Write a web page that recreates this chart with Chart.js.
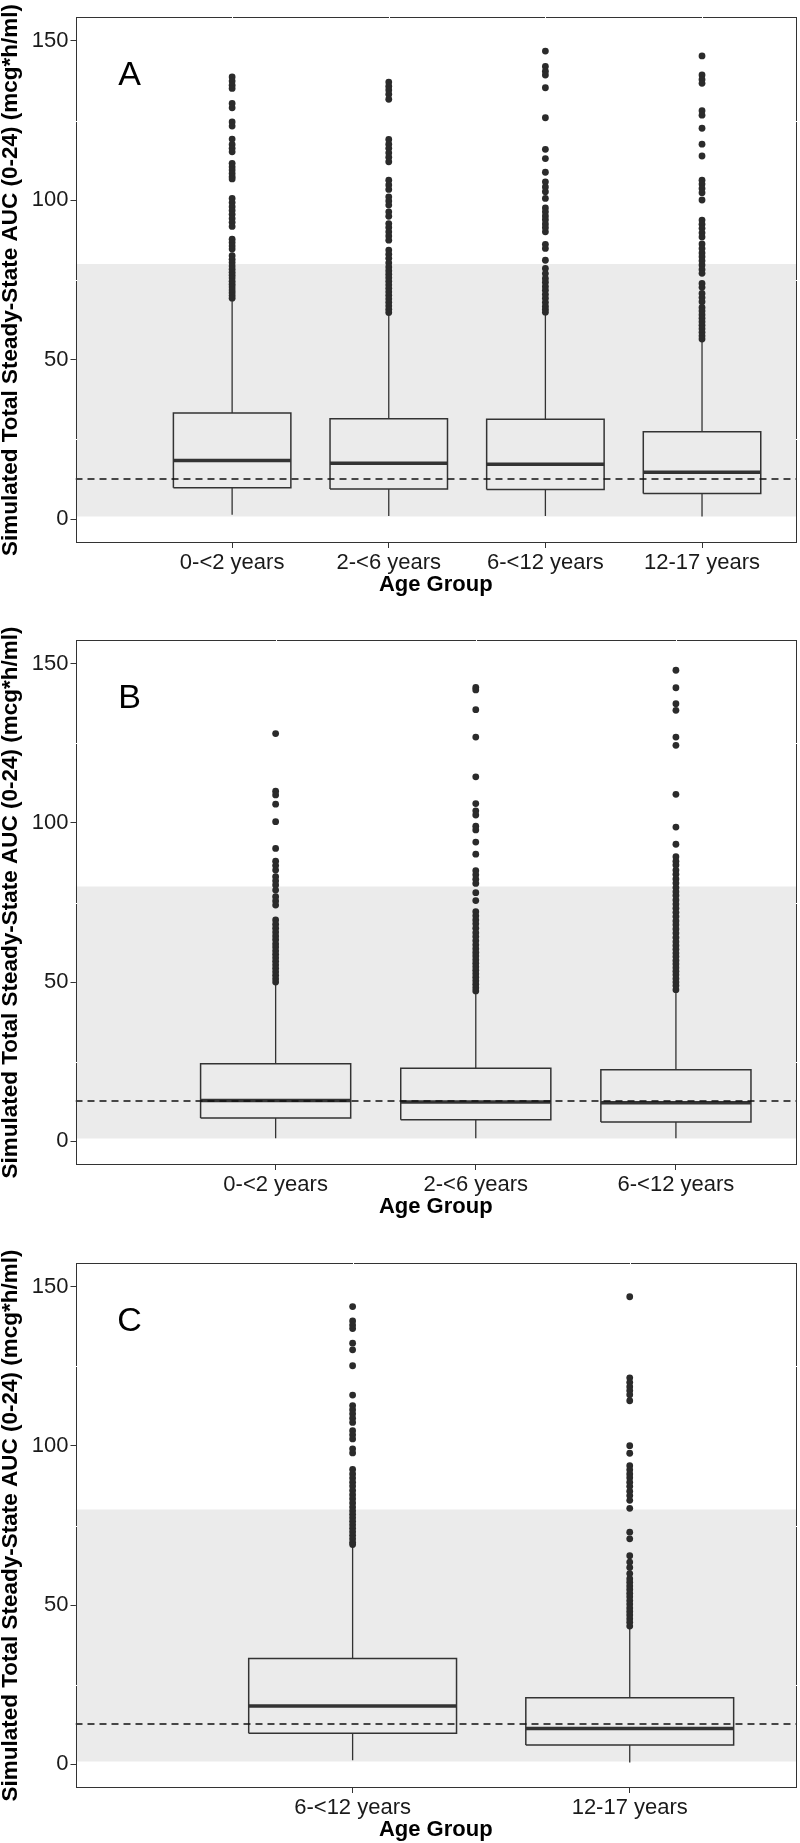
<!DOCTYPE html>
<html>
<head>
<meta charset="utf-8">
<script src="https://cdn.jsdelivr.net/npm/chart.js@4.4.1/dist/chart.umd.min.js"></script>
<style>
  html, body { margin: 0; padding: 0; background: #fff; }
  body { width: 800px; height: 1843px; position: relative; overflow: hidden; }
  .panel { position: absolute; left: 0; width: 800px; }
</style>
</head>
<body>
<div class="panel" id="wrap-a" style="top:0px;height:605px"><canvas id="chart-a"></canvas></div>
<div class="panel" id="wrap-b" style="top:623px;height:604px"><canvas id="chart-b"></canvas></div>
<div class="panel" id="wrap-c" style="top:1246px;height:604px"><canvas id="chart-c"></canvas></div>
<script>
// shared reference values (mcg*h/ml)
const BAND_LOW = 0.8;
const BAND_HIGH = 80;
const TARGET_AUC = 12.6;
const Y_TICKS = [0, 50, 100, 150];
const Y_MINOR = [25, 75, 125];
const Y_MIN = -7.5;
const Y_MAX = 157.5;

// panel A
const A_GROUPS = ['0-<2 years', '2-<6 years', '6-<12 years', '12-17 years'];
const A_Q1 = [9.8, 9.4, 9.3, 8.0];
const A_MEDIAN = [18.4, 17.5, 17.2, 14.7];
const A_Q3 = [33.3, 31.5, 31.3, 27.4];
const A_LOW = [1.4, 1.0, 1.0, 0.8];
const A_HIGH = [68.6, 63.9, 64.0, 55.7];
const A_OUTLIERS = [
  [138.7, 137.4, 136.1, 135.1, 130.4, 129.0, 124.6, 123.3, 119.2, 117.5, 116.3, 115.2, 111.6, 110.5, 109.5, 108.4, 107.4, 106.7, 100.6, 99.3, 98.0, 96.8, 95.6, 94.3, 93.1, 91.8, 87.8, 86.8, 85.7, 84.7, 82.6, 81.5, 80.5, 79.4, 78.4, 77.4, 76.5, 75.6, 74.6, 73.7, 72.8, 71.9, 71.0, 70.1, 69.3],
  [137.1, 135.8, 134.6, 133.3, 131.7, 119.1, 117.6, 116.3, 114.9, 113.5, 112.1, 106.3, 104.8, 103.4, 101.1, 99.8, 98.5, 96.4, 95.0, 92.7, 91.5, 90.1, 88.8, 87.5, 84.4, 83.1, 81.8, 80.4, 79.1, 77.9, 76.8, 75.7, 74.6, 73.5, 72.4, 71.3, 70.2, 69.1, 68.0, 66.9, 65.8, 64.8],
  [146.8, 142.0, 140.5, 139.3, 135.3, 125.9, 116.0, 113.1, 108.8, 105.8, 104.2, 102.7, 100.6, 97.6, 96.4, 95.1, 93.9, 92.6, 91.4, 90.1, 86.2, 84.9, 81.2, 78.6, 77.0, 75.5, 74.3, 73.0, 71.8, 70.5, 69.3, 68.0, 66.8, 65.8, 64.9],
  [145.3, 139.3, 137.9, 136.7, 128.1, 126.7, 122.6, 117.6, 113.9, 106.3, 105.1, 103.7, 102.4, 100.1, 93.8, 92.5, 91.2, 89.8, 88.5, 86.3, 84.9, 83.5, 82.3, 81.0, 79.7, 78.3, 77.1, 73.9, 72.7, 70.8, 69.5, 68.2, 66.4, 65.3, 64.1, 63.0, 61.9, 60.8, 59.7, 58.6, 57.5, 56.5]
];

// panel B
const B_GROUPS = ['0-<2 years', '2-<6 years', '6-<12 years'];
const B_Q1 = [7.3, 6.7, 6.0];
const B_MEDIAN = [12.8, 12.3, 12.1];
const B_Q3 = [24.3, 22.9, 22.4];
const B_LOW = [0.9, 0.9, 0.9];
const B_HIGH = [49.2, 46.3, 46.7];
const B_OUTLIERS = [
  [128.1, 110.0, 108.8, 105.9, 100.4, 92.0, 88.0, 86.6, 85.2, 83.1, 81.8, 80.5, 78.9, 76.8, 75.5, 74.2, 69.5, 68.2, 66.9, 65.7, 64.5, 63.3, 62.0, 61.0, 59.8, 58.7, 57.6, 56.5, 55.4, 54.3, 53.2, 52.1, 51.0, 50.0],
  [142.6, 141.8, 135.6, 127.0, 114.5, 106.1, 103.8, 102.5, 99.0, 97.8, 94.0, 90.2, 85.0, 83.7, 82.3, 81.0, 78.1, 75.6, 72.1, 70.8, 69.5, 68.3, 66.9, 65.5, 64.3, 63.0, 61.7, 60.5, 59.3, 58.2, 57.0, 55.9, 54.8, 53.7, 52.6, 51.5, 50.4, 49.3, 48.2, 47.2],
  [148.0, 142.5, 137.5, 135.4, 127.0, 124.4, 109.0, 98.7, 93.3, 89.4, 88.0, 86.8, 85.2, 83.9, 82.4, 81.1, 79.7, 78.4, 77.2, 75.8, 74.5, 73.2, 71.9, 70.6, 69.2, 68.0, 66.7, 65.4, 64.0, 62.7, 61.5, 60.3, 59.1, 58.0, 56.8, 55.7, 54.5, 53.4, 52.3, 51.1, 50.0, 48.9, 47.6]
];

// panel C
const C_GROUPS = ['6-<12 years', '12-17 years'];
const C_Q1 = [9.7, 6.0];
const C_MEDIAN = [18.3, 11.2];
const C_Q3 = [33.2, 20.9];
const C_LOW = [1.2, 0.5];
const C_HIGH = [68.2, 42.7];
const C_OUTLIERS = [
  [143.8, 139.3, 138.0, 136.9, 132.3, 130.2, 125.2, 116.0, 112.7, 111.4, 110.1, 108.7, 107.4, 104.8, 103.5, 102.2, 99.1, 97.8, 92.6, 91.2, 89.9, 88.6, 87.4, 86.0, 84.7, 83.4, 82.1, 80.8, 79.6, 78.5, 77.4, 76.3, 75.2, 74.1, 73.0, 71.9, 70.8, 69.7, 69.0],
  [146.9, 121.4, 120.0, 118.6, 117.4, 116.1, 114.2, 100.1, 97.7, 93.8, 92.5, 91.2, 90.0, 88.6, 87.3, 85.8, 84.4, 82.9, 80.4, 72.9, 70.8, 65.5, 63.5, 61.8, 59.9, 58.3, 57.2, 56.0, 54.9, 53.7, 52.6, 51.4, 50.3, 49.1, 48.0, 46.9, 45.7, 44.6, 43.4]
];

const FONT = "'Liberation Sans', Arial, sans-serif";
const INK = '#333333';
const BOX_HALF = 0.375;

// frame, white grid nicks on the frame, panel letter
const framePlugin = {
  id: 'frame',
  afterDraw(chart, args, opts) {
    const { ctx, chartArea: a, scales } = chart;
    const L = Math.round(a.left), T = Math.round(a.top);
    const W = Math.round(a.width), H = Math.round(a.height);
    ctx.save();
    ctx.strokeStyle = INK;
    ctx.lineWidth = 1;
    ctx.strokeRect(L + 0.5, T + 0.5, W - 1, H - 1);
    ctx.fillStyle = '#fff';
    opts.xs.forEach(v => {
      const px = Math.round(scales.x.getPixelForValue(v));
      ctx.fillRect(px, T, 1, 1);
    });
    Y_MINOR.forEach(v => {
      const py = Math.round(scales.y.getPixelForValue(v));
      ctx.fillRect(L, py, 1, 1);
      ctx.fillRect(L + W - 1, py, 1, 1);
    });
    ctx.fillStyle = '#000';
    ctx.font = '34px ' + FONT;
    ctx.textAlign = 'center';
    ctx.textBaseline = 'middle';
    ctx.fillText(opts.letter, a.left + 54, a.top + 59);
    ctx.restore();
  }
};

function makePanel(canvasId, letter, groups, q1, med, q3, lo, hi, outliers) {
  const n = groups.length;
  const xMin = 0, xMax = n + 0.6;
  const pos = groups.map((g, i) => i + 1);
  const datasets = [];

  // shaded reference range
  datasets.push({
    data: [{ x: xMin, y: BAND_HIGH }, { x: xMax, y: BAND_HIGH }],
    showLine: true, borderWidth: 0, borderColor: 'rgba(0,0,0,0)',
    backgroundColor: '#EBEBEB', fill: { value: BAND_LOW }, pointRadius: 0, order: 10
  });

  pos.forEach((x, i) => {
    const line = { showLine: true, pointRadius: 0, borderColor: INK, fill: false, order: 5 };
    datasets.push({ ...line, borderWidth: 1.3,
      data: [{ x: x, y: q3[i] }, { x: x, y: hi[i] }] });
    datasets.push({ ...line, borderWidth: 1.3,
      data: [{ x: x, y: lo[i] }, { x: x, y: q1[i] }] });
    datasets.push({ ...line, borderWidth: 1.5, data: [
      { x: x - BOX_HALF, y: q1[i] }, { x: x + BOX_HALF, y: q1[i] },
      { x: x + BOX_HALF, y: q3[i] }, { x: x - BOX_HALF, y: q3[i] },
      { x: x - BOX_HALF, y: q1[i] }] });
    datasets.push({ ...line, borderWidth: 3.5,
      data: [{ x: x - BOX_HALF, y: med[i] }, { x: x + BOX_HALF, y: med[i] }] });
  });

  // target line
  datasets.push({
    data: [{ x: xMin, y: TARGET_AUC }, { x: xMax, y: TARGET_AUC }],
    showLine: true, borderColor: '#111', borderWidth: 1.5, borderDash: [7, 5],
    pointRadius: 0, fill: false, order: 4
  });

  const pts = [];
  outliers.forEach((list, i) => list.forEach(v => pts.push({ x: pos[i], y: v })));
  datasets.push({
    data: pts, pointRadius: 3.4, pointBackgroundColor: '#2b2b2b',
    pointBorderWidth: 0, showLine: false, order: 1
  });

  return new Chart(document.getElementById(canvasId), {
    type: 'scatter',
    data: { datasets },
    plugins: [framePlugin],
    options: {
      responsive: true,
      maintainAspectRatio: false,
      animation: false,
      layout: { padding: { top: 17, right: 1, left: 0, bottom: 0 } },
      plugins: { legend: { display: false }, tooltip: { enabled: false }, frame: { letter, xs: pos } },
      scales: {
        x: {
          type: 'linear', min: xMin, max: xMax,
          afterBuildTicks: s => { s.ticks = pos.map(v => ({ value: v })); },
          afterFit: s => { s.height = 62; },
          grid: { drawOnChartArea: false, drawTicks: true, tickLength: 5, color: INK },
          border: { display: false },
          ticks: { color: '#1a1a1a', padding: 2, maxRotation: 0, autoSkip: false,
            font: { family: FONT, size: 22 },
            callback: v => groups[v - 1] || '' },
          title: { display: true, text: 'Age Group', color: '#000',
            font: { family: FONT, size: 22, weight: 'bold' }, padding: { top: 0, bottom: 7 } }
        },
        y: {
          type: 'linear', min: Y_MIN, max: Y_MAX,
          afterBuildTicks: s => { s.ticks = Y_TICKS.map(v => ({ value: v })); },
          afterFit: s => { s.width = 75.5; },
          grid: { drawOnChartArea: false, drawTicks: true, tickLength: 5, color: INK },
          border: { display: false },
          ticks: { color: '#1a1a1a', padding: 2, font: { family: FONT, size: 22 } },
          title: { display: true, text: 'Simulated Total Steady-State AUC (0-24) (mcg*h/ml)',
            color: '#000', font: { family: FONT, size: 22.5, weight: 'bold', lineHeight: 1 },
            padding: { top: 0, bottom: 0 } }
        }
      }
    }
  });
}

makePanel('chart-a', 'A', A_GROUPS, A_Q1, A_MEDIAN, A_Q3, A_LOW, A_HIGH, A_OUTLIERS);
makePanel('chart-b', 'B', B_GROUPS, B_Q1, B_MEDIAN, B_Q3, B_LOW, B_HIGH, B_OUTLIERS);
makePanel('chart-c', 'C', C_GROUPS, C_Q1, C_MEDIAN, C_Q3, C_LOW, C_HIGH, C_OUTLIERS);
</script>
</body>
</html>
